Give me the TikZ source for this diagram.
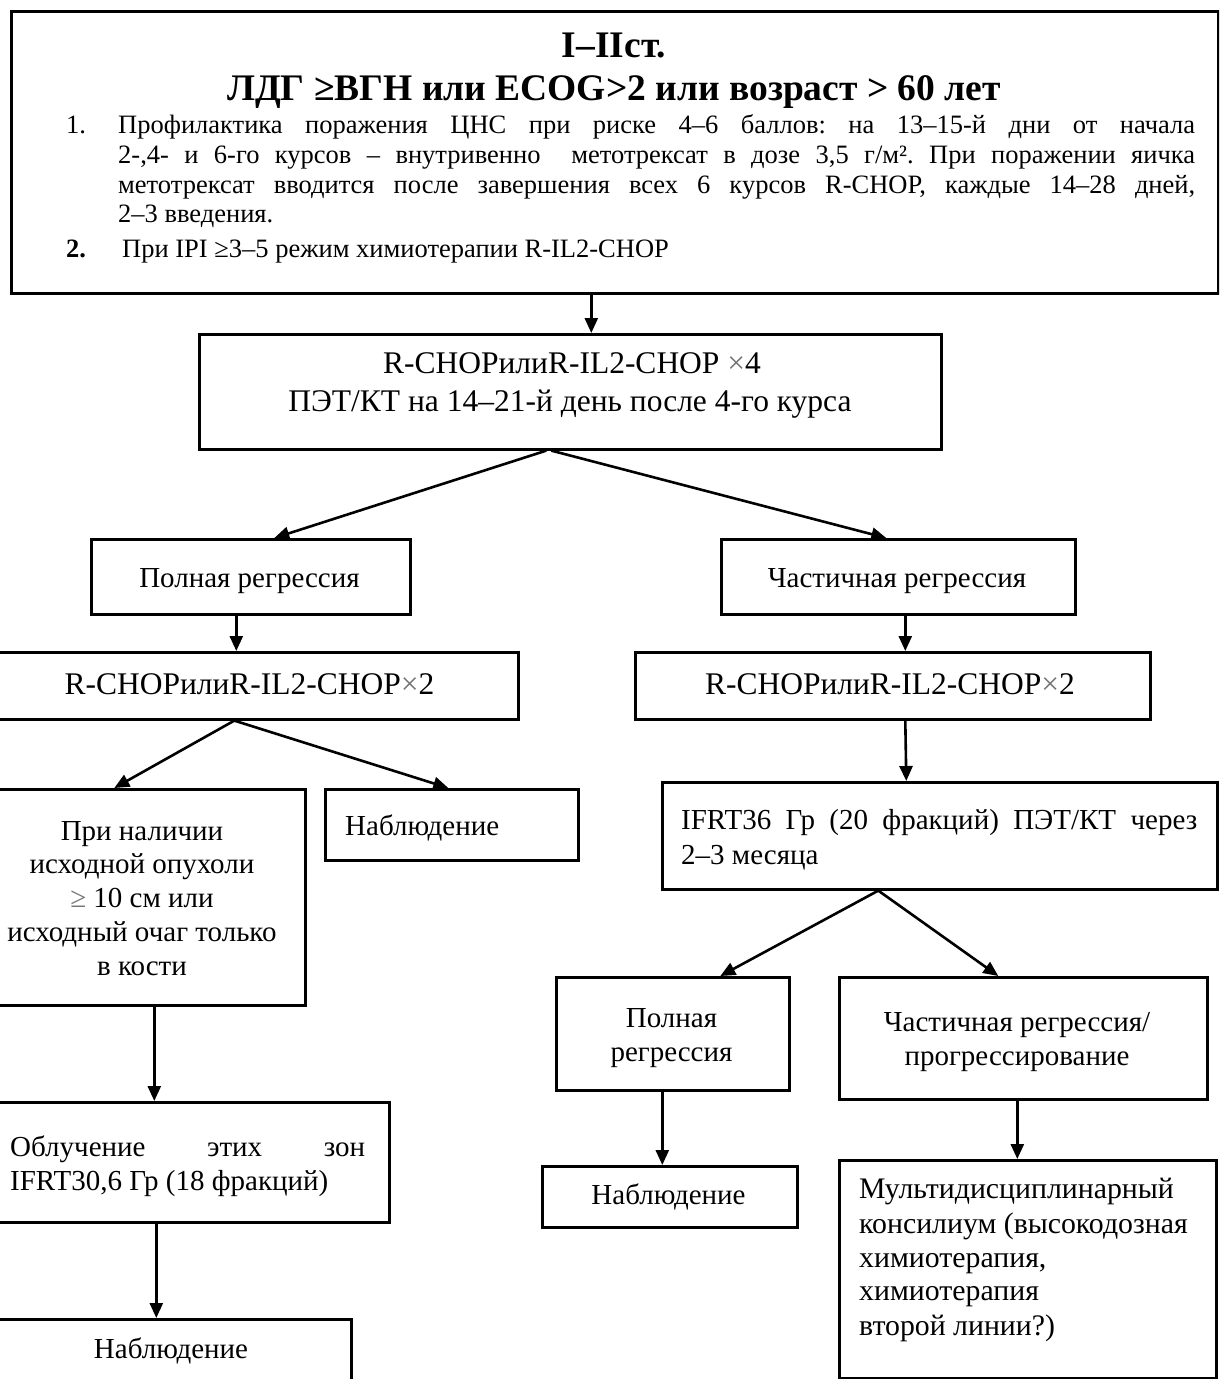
\documentclass[tikz,border=0pt]{standalone}
\usepackage{fontspec}
\setmainfont{Liberation Serif}
\usetikzlibrary{arrows.meta}
\frenchspacing
\newcommand{\titlefont}{\fontsize{37.5}{42}\selectfont\bfseries}
\newcommand{\bodyfont}{\fontsize{26.5}{30}\selectfont}
\newcommand{\boxfont}{\fontsize{29}{34}\selectfont}
\newcommand{\wideboxfont}{\fontsize{31.5}{34}\selectfont}
\newcommand{\lgx}{\textcolor{black!55}{×}}
\begin{document}
\begin{tikzpicture}[x=1pt,y=-1pt,
  box/.style={draw, line width=2.6pt, inner sep=0pt, anchor=north west, rectangle},
  arr/.style={line width=2.6pt, -{Triangle[length=15pt,width=13pt]}},
  txt/.style={inner sep=0pt, anchor=base, font=\boxfont},
  txtl/.style={inner sep=0pt, anchor=base west, font=\boxfont},
  body/.style={inner sep=0pt, anchor=base west, font=\bodyfont}]
\useasboundingbox (0,0) rectangle (1219,1379);
\clip (0,0) rectangle (1219,1379);

% boxes
\node[box, minimum width=1207, minimum height=282] (top) at (10,10) {};
\node[box, minimum width=742, minimum height=115] (b2) at (198,333) {};
\node[box, minimum width=319, minimum height=75] (pr1) at (90,538) {};
\node[box, minimum width=354, minimum height=75] (cr1) at (720,538) {};
\node[box, minimum width=535, minimum height=67] (rc1) at (-18,651) {};
\node[box, minimum width=515, minimum height=67] (rc2) at (634,651) {};
\node[box, minimum width=324, minimum height=216] (ph) at (-20,788) {};
\node[box, minimum width=253, minimum height=71] (nb1) at (324,788) {};
\node[box, minimum width=400, minimum height=120] (ob) at (-12,1101) {};
\node[box, minimum width=358, minimum height=90] (nb3) at (-8,1318) {};
\node[box, minimum width=555, minimum height=107] (ifrt) at (661,781) {};
\node[box, minimum width=233, minimum height=113] (pr2) at (555,976) {};
\node[box, minimum width=368, minimum height=122] (cr2) at (838,976) {};
\node[box, minimum width=255, minimum height=61] (nb2) at (541,1165) {};
\node[box, minimum width=377, minimum height=218] (md) at (838,1159) {};

% header text
\node[txt, font=\titlefont] (h1) at (614,57) {I–IIст.};
\node[txt, font=\titlefont] (h2) at (614,100) {ЛДГ ≥ВГН или ECOG>2 или возраст > 60 лет};
\node[body] (n1) at (66,133) {1.};
\node[body] (p1) at (118,133) {\makebox[1077pt][s]{Профилактика поражения ЦНС при риске 4–6 баллов: на 13–15-й дни от начала}};
\node[body] (p2) at (118,163) {\makebox[1077pt][s]{2-,4- и 6-го курсов – внутривенно \ метотрексат в дозе 3,5 г/м². При поражении яичка}};
\node[body] (p3) at (118,193) {\makebox[1077pt][s]{метотрексат вводится после завершения всех 6 курсов R-CHOP, каждые 14–28 дней,}};
\node[body] (p4) at (118,222) {2–3 введения.};
\node[body, font=\bodyfont\bfseries] (n2) at (66,257) {2.};
\node[body] (q1) at (122,257) {При IPI ≥3–5 режим химиотерапии R-IL2-CHOP};

% box texts
\node[txt, font=\wideboxfont] (b2a) at (572,373) {R-CHOPилиR-IL2-CHOP \lgx4};
\node[txt, font=\wideboxfont] (b2b) at (570,411) {ПЭТ/КТ на 14–21-й день после 4-го курса};
\node[txt] (pr1t) at (249.5,587) {Полная регрессия};
\node[txt] (cr1t) at (897,587) {Частичная регрессия};
\node[txt, font=\wideboxfont] (rc1t) at (249.5,694) {R-CHOPилиR-IL2-CHOP\lgx2};
\node[txt, font=\wideboxfont] (rc2t) at (890,694) {R-CHOPилиR-IL2-CHOP\lgx2};
\node[txt] (ph1) at (142,840) {При наличии};
\node[txt] (ph2) at (142,873) {исходной опухоли};
\node[txt] (ph3) at (142,907) {\textcolor{black!55}{≥} 10 см или};
\node[txt] (ph4) at (142,941) {исходный очаг только};
\node[txt] (ph5) at (142,975) {в кости};
\node[txtl] (nb1t) at (345,835) {Наблюдение};
\node[txtl] (ob1) at (10,1156) {\makebox[355pt][s]{Облучение этих зон}};
\node[txtl] (ob2) at (10,1190) {IFRT30,6 Гр (18 фракций)};
\node[txt] (nb3t) at (171,1358) {Наблюдение};
\node[txtl] (if1) at (681,829) {\makebox[516pt][s]{IFRT36 Гр (20 фракций) ПЭТ/КТ через}};
\node[txtl] (if2) at (681,864) {2–3 месяца};
\node[txt] (pr2a) at (671.5,1027) {Полная};
\node[txt] (pr2b) at (671.5,1061) {регрессия};
\node[txt] (cr2a) at (1017,1031) {Частичная регрессия/};
\node[txt] (cr2b) at (1017,1065) {прогрессирование};
\node[txt] (nb2t) at (668.5,1204) {Наблюдение};
\node[txtl, font=\fontsize{29.8}{34}\selectfont] (md1) at (859,1198) {Мультидисциплинарный};
\node[txtl, font=\fontsize{29.8}{34}\selectfont] (md2) at (859,1233) {консилиум (высокодозная};
\node[txtl, font=\fontsize{29.8}{34}\selectfont] (md3) at (859,1267) {химиотерапия,};
\node[txtl, font=\fontsize{29.8}{34}\selectfont] (md4) at (859,1300) {химиотерапия};
\node[txtl, font=\fontsize{29.8}{34}\selectfont] (md5) at (859,1335) {второй линии?)};

% connectors
\draw[arr] ([xshift=-23.5]top.south) -- ([xshift=21]b2.north);
\draw[arr] ([xshift=-24]b2.south) -- ([xshift=23.5]pr1.north);
\draw[arr] ([xshift=-19]b2.south) -- ([xshift=-12]cr1.north);
\draw[arr] ([xshift=-14.5]pr1.south) -- ([xshift=-14.5]rc1.north);
\draw[arr] ([xshift=7]cr1.south) -- ([xshift=12.5]rc2.north);
\draw[arr] ([xshift=-16.5]rc1.south) -- ([xshift=-29]ph.north);
\draw[arr] ([xshift=-16.5]rc1.south) -- ([xshift=-3.5]nb1.north);
\draw[arr] ([xshift=11]ph.south) -- ([xshift=-35]ob.north);
\draw[arr] ([xshift=-33]ob.south) -- ([xshift=-16]nb3.north);
\draw[arr] ([xshift=12.5]rc2.south) -- ([xshift=-33.5]ifrt.north);
\draw[arr] ([xshift=-61.5]ifrt.south) -- ([xshift=47.5]pr2.north);
\draw[arr] ([xshift=-61.5]ifrt.south) -- ([xshift=-25]cr2.north);
\draw[arr] ([xshift=-10.5]pr2.south) -- ([xshift=-7.5]nb2.north);
\draw[arr] ([xshift=-6]cr2.south) -- ([xshift=-10.5]md.north);
\end{tikzpicture}
\end{document}
